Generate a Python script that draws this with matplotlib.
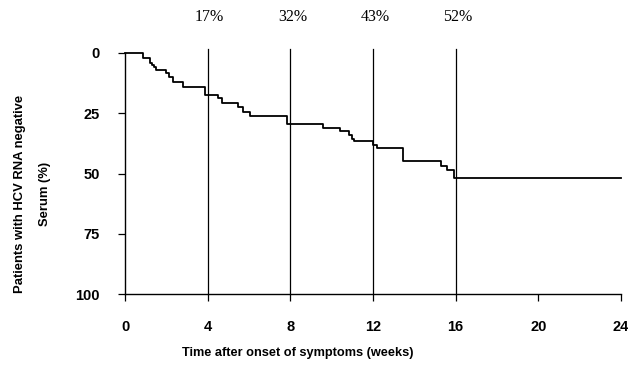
import matplotlib
matplotlib.use("Agg")
import matplotlib.pyplot as plt

# Step curve: time (weeks) at which the cumulative percentage changes
times = [0, 0.87, 1.2, 1.3, 1.4, 1.5, 2.0, 2.15, 2.3, 2.8, 3.85, 4.5, 4.7,
         5.47, 5.7, 6.05, 7.83, 9.6, 10.4, 10.85, 11.0, 11.1, 12.0, 12.2,
         13.45, 15.3, 15.6, 15.9, 24]
percent = [0, 2, 4, 5, 6, 7, 8.5, 10, 12, 14, 17.3, 18.8, 20.8,
           22.5, 24.5, 26, 29.5, 31, 32.5, 34, 35.5, 36.7, 38, 39.6,
           45, 46.7, 48.7, 52, 52]

marker_weeks = [4, 8, 12, 16]
marker_labels = ["17%", "32%", "43%", "52%"]

x_ticks = [0, 4, 8, 12, 16, 20, 24]
y_ticks = [0, 25, 50, 75, 100]

fig = plt.figure(figsize=(6.28, 3.71), dpi=100)
ax = fig.add_axes([125/628, 1-294/371, (621-125)/628, (294-53)/371])

ax.step(times, percent, where="post", color="black", lw=1.3, clip_on=False)

for w, lab in zip(marker_weeks, marker_labels):
    ax.plot([w, w], [-1.5, 100], color="black", lw=0.9, clip_on=False)
    ax.text(w + 0.1, -14.8, lab, ha="center", va="center", fontsize=11.5,
            family="Liberation Serif", clip_on=False)

ax.set_xlim(0, 24)
ax.set_ylim(100, 0)
ax.set_xticks(x_ticks)
ax.set_yticks(y_ticks)
ax.set_xticklabels([str(v) for v in x_ticks], family="Liberation Sans",
                   fontweight="bold", fontsize=10.5)
ax.set_yticklabels([str(v) for v in y_ticks], family="Liberation Sans",
                   fontweight="bold", fontsize=10.5)
ax.tick_params(axis="y", direction="out", length=5, width=0.9, pad=13)
ax.tick_params(axis="x", direction="out", length=5, width=0.9, pad=14)

for s in ["top", "right"]:
    ax.spines[s].set_visible(False)
for s in ["left", "bottom"]:
    ax.spines[s].set_linewidth(1.0)

fig.text(20/628, 1-194/371, "Patients with HCV RNA negative", rotation=90,
         ha="center", va="center", fontsize=9.4, fontweight="bold",
         family="Liberation Sans")
fig.text(45/628, 1-194/371, "Serum (%)", rotation=90,
         ha="center", va="center", fontsize=9.4, fontweight="bold",
         family="Liberation Sans")
fig.text(298/628, 1-353/371, "Time after onset of symptoms (weeks)",
         ha="center", va="center", fontsize=9.2, fontweight="bold",
         family="Liberation Sans")

fig.savefig("out.png", dpi=100)
